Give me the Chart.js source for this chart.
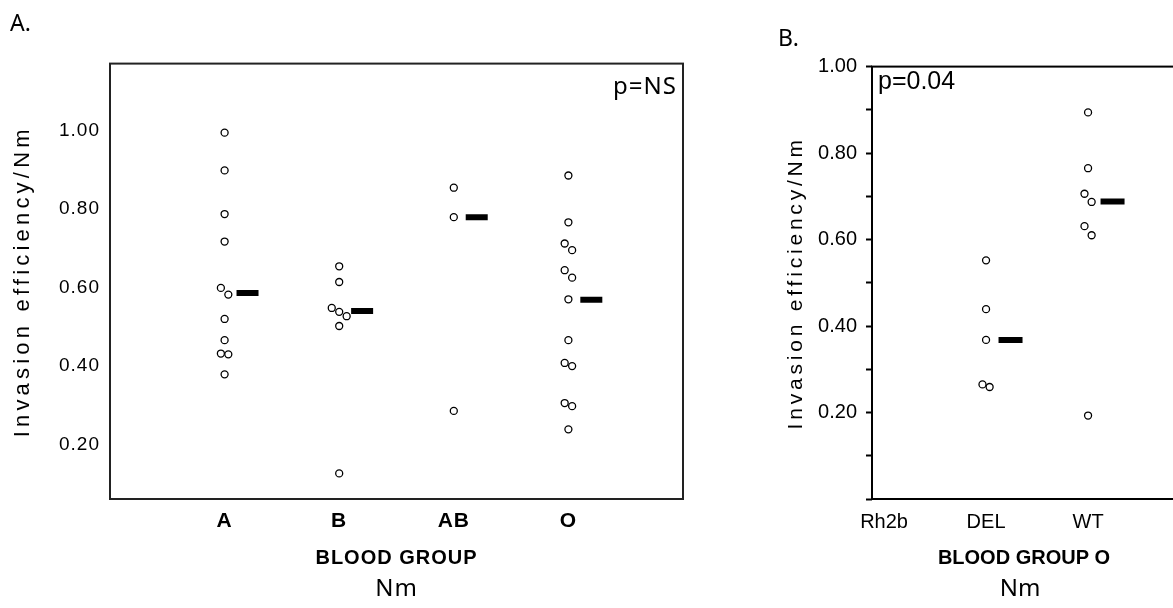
<!DOCTYPE html>
<html><head><meta charset="utf-8">
<script src="https://cdn.jsdelivr.net/npm/chart.js@4.4.0/dist/chart.umd.min.js"></script>
<style>
html,body{margin:0;padding:0;background:#fff;overflow:hidden;width:1173px;height:608px;}
#wa{position:absolute;left:0;top:0;width:700px;height:608px;}
#wb{position:absolute;left:760px;top:0;width:440px;height:608px;}
</style></head><body>
<div id="wa"><canvas id="ca"></canvas></div>
<div id="wb"><canvas id="cb"></canvas></div>
<script>
// ---------- Panel A data ----------
const panelLabelA = 'A.';
const categoriesA = ['A', 'B', 'AB', 'O'];
const groupA  = [0.994, 0.898, 0.787, 0.717, 0.599, 0.582, 0.520, 0.466, 0.432, 0.430, 0.379];
const groupB  = [0.654, 0.614, 0.548, 0.538, 0.527, 0.502, 0.127];
const groupAB = [0.854, 0.779, 0.286];
const groupO  = [0.885, 0.766, 0.712, 0.695, 0.644, 0.625, 0.570, 0.466, 0.408, 0.400, 0.306, 0.298, 0.239];
const mediansA = [0.586, 0.540, 0.779, 0.569];
const yTicksA = [0.20, 0.40, 0.60, 0.80, 1.00];
const pTextA = 'p=NS';
const xTitleA = 'BLOOD GROUP';

// ---------- Panel B data ----------
const panelLabelB = 'B.';
const categoriesB = ['Rh2b', 'DEL', 'WT'];
const groupRh2b = [];
const groupDEL  = [0.552, 0.439, 0.368, 0.265, 0.259];
const groupWT   = [0.894, 0.765, 0.706, 0.687, 0.631, 0.610, 0.193];
const mediansB  = [null, 0.368, 0.688];
const yTicksB  = [0, 0.1, 0.2, 0.3, 0.4, 0.5, 0.6, 0.7, 0.8, 0.9, 1.0];
const yLabelsB = [0.2, 0.4, 0.6, 0.8, 1.0];
const pTextB = 'p=0.04';
const xTitleB = 'BLOOD GROUP O';

// ---------- shared text ----------
const yTitle = 'Invasion efficiency/Nm';
const unitLabel = 'Nm';

// side-by-side placement of near-equal values (simple dodge)
function dodge(groups, firstIndex, thr, step) {
  const pts = [];
  groups.forEach((vals, gi) => {
    const cx = firstIndex + gi;
    const sorted = vals.slice().sort((a, b) => b - a);
    let cluster = [];
    const flush = () => {
      const n = cluster.length;
      cluster.forEach((v, k) => pts.push({x: cx + (k - (n - 1) / 2) * step, y: v}));
      cluster = [];
    };
    sorted.forEach(v => {
      if (cluster.length && (cluster[cluster.length - 1] - v) >= thr) flush();
      cluster.push(v);
    });
    flush();
  });
  return pts;
}
function medianPoints(meds, firstIndex, off) {
  return meds.map((m, i) => m == null ? null : {x: firstIndex + i + off, y: m}).filter(Boolean);
}

// letter spacing per text (canvas letterSpacing)
const spacingPlugin = {
  id: 'spacing',
  beforeInit(chart) {
    const ctx = chart.ctx;
    ctx.fillText = function (t, x, y, mw) {
      const o = chart.options.plugins.spacing || {};
      const s = (o.map && o.map[t] !== undefined) ? o.map[t] : (o.def || 0);
      const has = ('letterSpacing' in this);
      const prev = has ? this.letterSpacing : null;
      if (has) this.letterSpacing = s + 'px';
      if (mw === undefined) CanvasRenderingContext2D.prototype.fillText.call(this, t, x, y);
      else CanvasRenderingContext2D.prototype.fillText.call(this, t, x, y, mw);
      if (has) this.letterSpacing = prev;
    };
  }
};
const framePlugin = {
  id: 'frame',
  beforeDatasetsDraw(chart, args, o) {
    const {ctx, chartArea: a} = chart;
    ctx.save();
    ctx.strokeStyle = o.color; ctx.lineWidth = o.width;
    ctx.strokeRect(a.left, a.top, a.right - a.left, a.bottom - a.top);
    ctx.restore();
  }
};
const cornerTextPlugin = {
  id: 'cornerText',
  afterDraw(chart, args, o) {
    const {ctx, chartArea: a} = chart;
    ctx.save();
    ctx.font = o.font; ctx.fillStyle = '#000'; ctx.textBaseline = 'middle';
    ctx.textAlign = o.align;
    const x = o.align === 'right' ? a.right - o.dx : a.left + o.dx;
    ctx.fillText(o.text, x, a.top + o.dy);
    ctx.restore();
  }
};
const bottomTextPlugin = {
  id: 'bottomText',
  afterDraw(chart, args, o) {
    const {ctx, chartArea: a} = chart;
    ctx.save();
    ctx.font = o.font; ctx.fillStyle = '#000'; ctx.textBaseline = 'middle'; ctx.textAlign = 'center';
    ctx.fillText(o.text, (a.left + a.right) / 2 + o.dx, chart.height - o.dy);
    ctx.restore();
  }
};

Chart.defaults.font.family = 'Liberation Sans';
Chart.defaults.color = '#000';

const pointStyleOpts = {pointRadius: 3.5, pointHoverRadius: 3.5, pointBorderWidth: 1.3, borderColor: '#000', backgroundColor: '#fff'};

// ---------- Chart A ----------
new Chart(document.getElementById('ca'), {
  type: 'scatter',
  data: {datasets: [
    Object.assign({data: dodge([groupA, groupB, groupAB, groupO], 1, 0.022, 0.065)}, pointStyleOpts),
    {data: medianPoints(mediansA, 1, 0.2), pointStyle: 'line', pointRadius: 11, pointHoverRadius: 11,
     pointBorderWidth: 6, borderColor: '#000', backgroundColor: '#000'}
  ]},
  options: {
    responsive: true, maintainAspectRatio: false, animation: false,
    layout: {padding: {left: 10, right: 15, top: 0, bottom: 38}},
    plugins: {
      legend: {display: false}, tooltip: {enabled: false},
      title: {display: true, text: panelLabelA, align: 'start', color: '#000',
              font: {family: 'Noto Sans', size: 23, weight: 'normal'}, padding: {top: 11, bottom: 25}},
      spacing: {def: 1, map: {'Invasion efficiency/Nm': 4.2, 'A.': 0}},
      frame: {color: '#222', width: 2},
      cornerText: {text: pTextA, align: 'right', dx: 6, dy: 24, font: '24px "Noto Sans"'},
      bottomText: {text: unitLabel, dx: 0, dy: 19, font: '24px "Noto Sans"'}
    },
    scales: {
      x: {type: 'linear', min: 0, max: 5,
          grid: {display: false, drawTicks: false}, border: {display: false},
          afterBuildTicks: s => { s.ticks = categoriesA.map((c, i) => ({value: i + 1})); },
          afterFit: s => { s.height = 71; },
          ticks: {padding: 10, maxRotation: 0, autoSkip: false,
                  font: {size: 21, weight: 'bold'}, callback: v => categoriesA[Math.round(v) - 1]},
          title: {display: true, text: xTitleA, font: {size: 20, weight: 'bold'}, padding: {top: 11, bottom: 0}}},
      y: {min: 0.0618, max: 1.1698,
          grid: {display: false, drawTicks: false}, border: {display: false},
          afterBuildTicks: s => { s.ticks = yTicksA.map(v => ({value: v})); },
          afterFit: s => { s.width = 100; },
          ticks: {padding: 10, font: {size: 19}, callback: v => Number(v).toFixed(2)},
          title: {display: true, text: yTitle, font: {size: 22}, padding: {top: 0, bottom: 0}}}
    }
  },
  plugins: [spacingPlugin, framePlugin, cornerTextPlugin, bottomTextPlugin]
});

// ---------- Chart B ----------
new Chart(document.getElementById('cb'), {
  type: 'scatter',
  data: {datasets: [
    Object.assign({data: dodge([groupRh2b, groupDEL, groupWT], 0, 0.022, 0.07)}, pointStyleOpts),
    {data: medianPoints(mediansB, 0, 0.24), pointStyle: 'line', pointRadius: 12, pointHoverRadius: 12,
     pointBorderWidth: 6, borderColor: '#000', backgroundColor: '#000'}
  ]},
  options: {
    responsive: true, maintainAspectRatio: false, animation: false,
    layout: {padding: {left: 18, right: 24, top: 0, bottom: 38}},
    plugins: {
      legend: {display: false}, tooltip: {enabled: false},
      title: {display: true, text: panelLabelB, align: 'start', color: '#000',
              font: {family: 'Noto Sans', size: 23, weight: 'normal'}, padding: {top: 26, bottom: 13}},
      spacing: {def: 0, map: {'Invasion efficiency/Nm': 3.8}},
      frame: {color: '#000', width: 2},
      cornerText: {text: pTextB, align: 'left', dx: 6, dy: 16, font: '25px "Liberation Sans"'},
      bottomText: {text: unitLabel, dx: -4, dy: 19, font: '24px "Noto Sans"'}
    },
    scales: {
      x: {type: 'linear', min: -0.118, max: 2.862,
          grid: {display: false, drawTicks: false}, border: {display: false},
          afterBuildTicks: s => { s.ticks = categoriesB.map((c, i) => ({value: i})); },
          afterFit: s => { s.height = 71; },
          ticks: {padding: 11, maxRotation: 0, autoSkip: false,
                  font: {size: 20}, callback: v => categoriesB[Math.round(v)]},
          title: {display: true, text: xTitleB, font: {size: 20, weight: 'bold'}, padding: {top: 12, bottom: 0}}},
      y: {min: 0, max: 1.0,
          grid: {display: true, drawOnChartArea: false, drawTicks: true, tickLength: 6, tickColor: '#000', tickWidth: 2, color: '#000'},
          border: {display: false},
          afterBuildTicks: s => { s.ticks = yTicksB.map(v => ({value: v})); },
          afterFit: s => { s.width = 94; },
          ticks: {padding: 9, autoSkip: false, font: {size: 20},
                  callback: v => yLabelsB.some(l => Math.abs(l - v) < 1e-6) ? Number(v).toFixed(2) : ''},
          title: {display: true, text: yTitle, font: {size: 21}, padding: {top: 6, bottom: 0}}}
    }
  },
  plugins: [spacingPlugin, framePlugin, cornerTextPlugin, bottomTextPlugin]
});
</script>
</body></html>
